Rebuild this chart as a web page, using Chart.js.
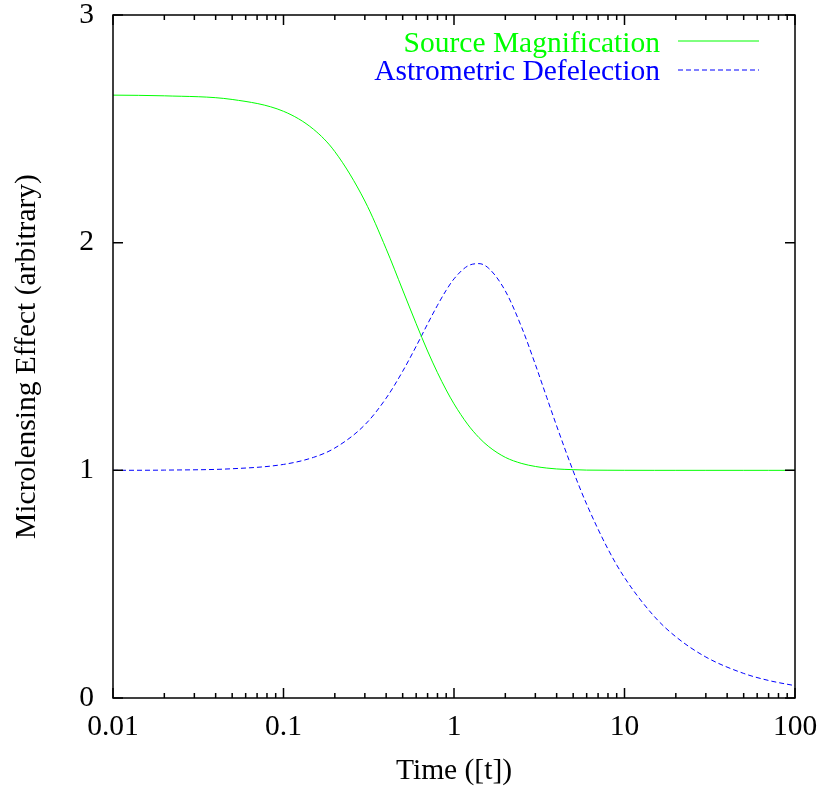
<!DOCTYPE html>
<html>
<head>
<meta charset="utf-8">
<script src="https://cdn.jsdelivr.net/npm/chart.js@4.4.0/dist/chart.umd.min.js"></script>
<style>
  html, body { margin: 0; padding: 0; background: #ffffff; }
  #wrap { width: 819px; height: 792px; }
</style>
</head>
<body>
<div id="wrap"><canvas id="chart" width="819" height="792"></canvas></div>
<script>
// ----------------------------------------------------------------------------
// Data
// ----------------------------------------------------------------------------

const timeValues = [0.01, 0.02, 0.05, 0.1, 0.15, 0.2, 0.3, 0.4, 0.5, 0.6, 0.7, 0.8, 0.9, 1, 1.2, 1.4, 1.6, 2, 2.5, 3, 3.5, 4, 5, 6, 8, 10, 15, 20, 30, 50, 70, 100];
const magnification = [2.648, 2.645, 2.629, 2.577, 2.498, 2.400, 2.183, 1.973, 1.792, 1.644, 1.524, 1.429, 1.353, 1.292, 1.203, 1.144, 1.104, 1.057, 1.030, 1.017, 1.010, 1.006, 1.003, 1.001, 1.0005, 1.0002, 1.0, 1.0, 1.0, 1.0, 1.0, 1.0];
const deflection = [1.000, 1.001, 1.007, 1.026, 1.057, 1.098, 1.200, 1.317, 1.435, 1.545, 1.643, 1.725, 1.791, 1.841, 1.897, 1.908, 1.887, 1.788, 1.626, 1.465, 1.320, 1.195, 0.997, 0.851, 0.654, 0.529, 0.357, 0.269, 0.180, 0.108, 0.077, 0.054];

const xTickValues = [0.01, 0.1, 1, 10, 100];
const yTickValues = [0, 1, 2, 3];
const seriesLabels = ['Source Magnification', 'Astrometric Defelection'];

const FONT = { family: "'Liberation Serif', 'Times New Roman', serif", size: 29.5 };

// ----------------------------------------------------------------------------
// Plugins: gnuplot-style frame with inward ticks, and right-aligned key
// ----------------------------------------------------------------------------

const frameTicks = {
    id: 'frameTicks',
    afterDatasetsDraw(chart) {
        const { ctx, chartArea: a, scales: { x, y } } = chart;
        ctx.save();
        ctx.strokeStyle = '#000';
        ctx.lineWidth = 1.5;
        ctx.beginPath();
        // x ticks: majors at decades, minors at 2..9
        xTickValues.forEach((d, i) => {
            const px = x.getPixelForValue(d);
            ctx.moveTo(px, a.bottom); ctx.lineTo(px, a.bottom - 10);
            ctx.moveTo(px, a.top); ctx.lineTo(px, a.top + 10);
            if (i === xTickValues.length - 1) return;
            for (let m = 2; m <= 9; m++) {
                const mx = x.getPixelForValue(d * m);
                ctx.moveTo(mx, a.bottom); ctx.lineTo(mx, a.bottom - 5);
                ctx.moveTo(mx, a.top); ctx.lineTo(mx, a.top + 5);
            }
        });
        yTickValues.forEach(v => {
            const py = y.getPixelForValue(v);
            ctx.moveTo(a.left, py); ctx.lineTo(a.left + 10, py);
            ctx.moveTo(a.right, py); ctx.lineTo(a.right - 10, py);
        });
        ctx.stroke();
        ctx.strokeRect(a.left, a.top, a.right - a.left, a.bottom - a.top);
        ctx.restore();
    }
};

const keyBox = {
    id: 'keyBox',
    afterDatasetsDraw(chart) {
        const { ctx, chartArea: a } = chart;
        ctx.save();
        ctx.font = `${FONT.size}px ${FONT.family}`;
        ctx.textAlign = 'right';
        ctx.textBaseline = 'alphabetic';
        chart.data.datasets.forEach((ds, i) => {
            const baseY = a.top + 37 + i * 28;
            const lineY = a.top + 26 + i * 29;
            ctx.fillStyle = ds.borderColor;
            ctx.fillText(ds.label, a.right - 135, baseY);
            ctx.strokeStyle = ds.borderColor;
            ctx.lineWidth = 1;
            ctx.setLineDash(ds.borderDash || []);
            ctx.beginPath();
            ctx.moveTo(a.right - 117, lineY);
            ctx.lineTo(a.right - 36, lineY);
            ctx.stroke();
        });
        ctx.restore();
    }
};

// ----------------------------------------------------------------------------
// Chart
// ----------------------------------------------------------------------------

const toPoints = values => timeValues.map((t, i) => ({ x: t, y: values[i] }));

// keep Chart.js from reserving extra room for overhanging tick labels
const noOverhang = s => {
    s.paddingLeft = 0; s.paddingRight = 0;
    s.paddingTop = 0; s.paddingBottom = 0;
};

new Chart(document.getElementById('chart'), {
    type: 'line',
    data: {
        datasets: [
            {
                label: seriesLabels[0],
                data: toPoints(magnification),
                borderColor: '#00ff00',
                borderWidth: 1,
                pointRadius: 0,
                cubicInterpolationMode: 'monotone',
                fill: false
            },
            {
                label: seriesLabels[1],
                data: toPoints(deflection),
                borderColor: '#0000ff',
                borderWidth: 1,
                borderDash: [5, 3],
                pointRadius: 0,
                cubicInterpolationMode: 'monotone',
                fill: false
            }
        ]
    },
    options: {
        responsive: false,
        animation: false,
        devicePixelRatio: 1,
        layout: { padding: { top: 15, right: 24, left: 0, bottom: 0 } },
        plugins: {
            legend: { display: false },
            tooltip: { enabled: false }
        },
        scales: {
            x: {
                type: 'logarithmic',
                min: 0.01,
                max: 100,
                afterBuildTicks: s => { s.ticks = xTickValues.map(v => ({ value: v })); },
                afterFit: s => { s.height = 94; noOverhang(s); },
                ticks: {
                    font: FONT,
                    color: '#000',
                    padding: 12,
                    maxRotation: 0,
                    autoSkip: false,
                    callback: v => String(v)
                },
                grid: { display: false, drawTicks: false },
                border: { display: false },
                title: {
                    display: true,
                    text: 'Time ([t])',
                    font: FONT,
                    color: '#000',
                    padding: { top: 0, bottom: 3 }
                }
            },
            y: {
                type: 'linear',
                min: 0,
                max: 3,
                afterBuildTicks: s => { s.ticks = yTickValues.map(v => ({ value: v })); },
                afterFit: s => { s.width = 113; noOverhang(s); },
                ticks: {
                    font: FONT,
                    color: '#000',
                    padding: 19,
                    callback: v => String(v)
                },
                grid: { display: false, drawTicks: false },
                border: { display: false },
                title: {
                    display: true,
                    text: 'Microlensing Effect (arbitrary)',
                    font: FONT,
                    color: '#000',
                    padding: { top: 10, bottom: 0 }
                }
            }
        }
    },
    plugins: [frameTicks, keyBox]
});
</script>
</body>
</html>
